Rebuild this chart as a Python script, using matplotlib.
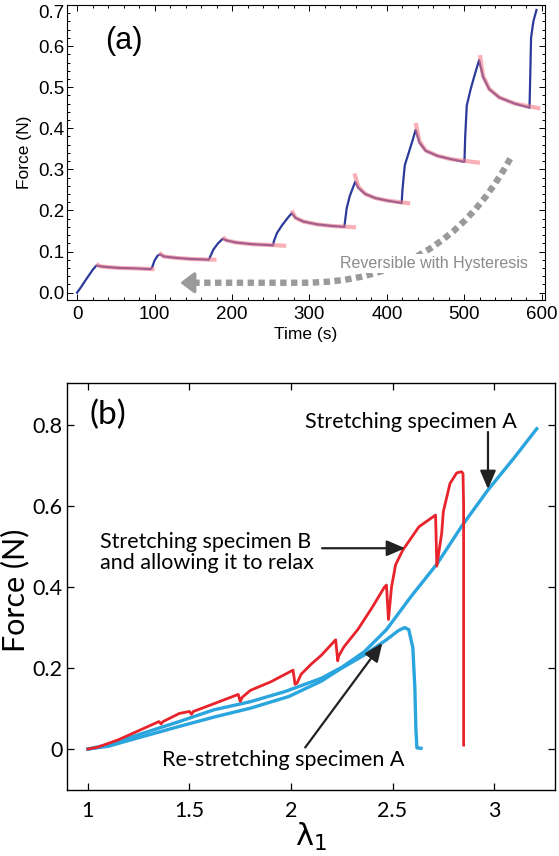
import matplotlib
matplotlib.use("Agg")
import matplotlib.pyplot as plt
from matplotlib.ticker import MultipleLocator

# ---------------- panel (a) data: force vs time ----------------
time_blue = [0, 5, 12, 20, 25,
             30, 40, 55, 75, 95,
             97, 100, 104, 107,
             112, 125, 145, 170,
             172, 176, 182, 188,
             193, 205, 225, 253,
             254, 258, 265, 272, 277,
             282, 292, 310, 330, 345,
             346, 348, 352, 356, 359,
             363, 372, 385, 400, 419,
             420, 423, 428, 433, 437,
             442, 450, 465, 482, 500,
             501, 503, 508, 514, 519,
             524, 532, 545, 565, 584,
             585, 586, 589, 593]
force_blue = [0.000, 0.013, 0.033, 0.055, 0.066,
              0.064, 0.062, 0.060, 0.059, 0.057,
              0.062, 0.078, 0.090, 0.093,
              0.088, 0.085, 0.082, 0.080,
              0.088, 0.105, 0.120, 0.131,
              0.127, 0.122, 0.118, 0.115,
              0.125, 0.145, 0.165, 0.182, 0.193,
              0.182, 0.173, 0.166, 0.162, 0.160,
              0.175, 0.205, 0.235, 0.255, 0.270,
              0.255, 0.240, 0.230, 0.224, 0.218,
              0.250, 0.310, 0.340, 0.370, 0.396,
              0.365, 0.345, 0.333, 0.325, 0.318,
              0.380, 0.455, 0.495, 0.535, 0.566,
              0.525, 0.495, 0.475, 0.460, 0.450,
              0.530, 0.620, 0.660, 0.688]

# relaxation fits (pink), one list per hold period
fit_times = [[25, 30, 40, 55, 75, 100],
             [106, 112, 125, 145, 180],
             [188, 193, 205, 225, 270],
             [277, 282, 292, 310, 330, 360],
             [358, 363, 372, 385, 400, 430],
             [437, 442, 450, 465, 482, 520],
             [520, 524, 532, 545, 565, 598]]
fit_forces = [[0.070, 0.064, 0.062, 0.060, 0.059, 0.057],
              [0.097, 0.088, 0.085, 0.082, 0.080],
              [0.135, 0.127, 0.122, 0.118, 0.114],
              [0.200, 0.182, 0.173, 0.166, 0.162, 0.159],
              [0.290, 0.258, 0.240, 0.230, 0.224, 0.217],
              [0.413, 0.368, 0.346, 0.333, 0.325, 0.316],
              [0.578, 0.528, 0.496, 0.475, 0.460, 0.448]]

a_xticks = [0, 100, 200, 300, 400, 500, 600]
a_yticks = [0.0, 0.1, 0.2, 0.3, 0.4, 0.5, 0.6, 0.7]

# ---------------- panel (b) data: force vs stretch ----------------
lam_B = [1.00, 1.05, 1.15, 1.27, 1.35, 1.36, 1.37, 1.45, 1.50, 1.51, 1.52,
         1.62, 1.74, 1.75, 1.76, 1.80, 1.90, 2.01, 2.02, 2.03, 2.05, 2.10,
         2.15, 2.22, 2.23, 2.235, 2.26, 2.33, 2.40, 2.46, 2.47, 2.48, 2.495,
         2.515, 2.55, 2.63, 2.712, 2.718, 2.742, 2.75, 2.783, 2.816, 2.84,
         2.847, 2.85, 2.85]
F_B = [0.000, 0.005, 0.023, 0.050, 0.068, 0.062, 0.068, 0.088, 0.093, 0.086,
       0.093, 0.112, 0.135, 0.118, 0.128, 0.145, 0.166, 0.195, 0.160, 0.163,
       0.185, 0.210, 0.232, 0.270, 0.218, 0.230, 0.252, 0.296, 0.350, 0.400,
       0.405, 0.320, 0.400, 0.455, 0.491, 0.549, 0.578, 0.452, 0.533, 0.586,
       0.656, 0.682, 0.685, 0.680, 0.600, 0.010]

lam_A = [1.00, 1.10, 1.27, 1.45, 1.62, 1.80, 1.97, 2.15, 2.25, 2.36, 2.47,
         2.59, 2.72, 2.84, 2.97, 3.10, 3.21]
F_A = [0.000, 0.011, 0.039, 0.068, 0.097, 0.117, 0.142, 0.175, 0.202, 0.240,
       0.295, 0.376, 0.458, 0.550, 0.640, 0.720, 0.791]

lam_R = [1.00, 1.10, 1.27, 1.45, 1.62, 1.80, 1.99, 2.15, 2.24, 2.36, 2.47,
         2.53, 2.56, 2.58, 2.60, 2.61, 2.615, 2.62, 2.64]
F_R = [0.000, 0.007, 0.031, 0.056, 0.079, 0.101, 0.130, 0.168, 0.197, 0.232,
       0.270, 0.293, 0.300, 0.295, 0.250, 0.150, 0.050, 0.003, 0.002]

b_xticks = [1, 1.5, 2, 2.5, 3]
b_xticklabels = ["1", "1.5", "2", "2.5", "3"]
b_yticks = [0, 0.2, 0.4, 0.6, 0.8]
b_yticklabels = ["0", "0.2", "0.4", "0.6", "0.8"]

# ---------------- figure ----------------
W, H = 559, 856
fig = plt.figure(figsize=(W / 100, H / 100), dpi=100)

def frac(l, t, r, b):
    return [l / W, 1 - b / H, (r - l) / W, (b - t) / H]

# panel (a)
fa = "Liberation Sans"
ax1 = fig.add_axes(frac(67, 5, 545, 300))
ax1.plot(time_blue, force_blue, color="#2b3a9b", lw=1.6, zorder=2)
for tt, ff in zip(fit_times, fit_forces):
    ax1.plot(tt, ff, color="#f47a86", lw=3.0, alpha=0.6, zorder=3,
             solid_capstyle="butt")
ax1.set_xlim(-13, 604)
ax1.set_ylim(-0.018, 0.70)
ax1.set_xticks(a_xticks)
ax1.set_yticks(a_yticks)
ax1.set_yticklabels([f"{v:.1f}" for v in a_yticks])
ax1.xaxis.set_minor_locator(MultipleLocator(20))
ax1.yaxis.set_minor_locator(MultipleLocator(0.02))
ax1.tick_params(which="both", direction="in", top=True, right=True,
                labelsize=13.5, width=0.7)
ax1.tick_params(which="major", length=4)
ax1.tick_params(which="minor", length=2.2)
ax1.tick_params(axis="y", pad=2)
ax1.tick_params(axis="x", pad=4)
for lab in ax1.get_xticklabels() + ax1.get_yticklabels():
    lab.set_family(fa)
ax1.get_yticklabels()[-1].set_va("top")
for s in ax1.spines.values():
    s.set_linewidth(0.8)
ax1.set_xlabel("Time (s)", family=fa, fontsize=12.5)
ax1.xaxis.set_label_coords(0.5, -0.09)
ax1.set_ylabel("Force (N)", family=fa, fontsize=12.5)
ax1.yaxis.set_label_coords(-0.073, 0.5)
ax1.text(0.12, 0.878, "(a)", transform=ax1.transAxes, family=fa, fontsize=22,
         ha="center", va="center")
# dashed return arrow
ax1.annotate("", xy=(150, 0.024), xytext=(559, 0.326),
             arrowprops=dict(arrowstyle="-", color="#9a9a9a", lw=4.6,
                             linestyle=(0, (1.0, 0.7)), capstyle="butt",
                             connectionstyle="angle,angleA=61,angleB=0,rad=138",
                             shrinkA=0, shrinkB=0), zorder=4)
ax1.annotate("", xy=(133, 0.024), xytext=(150, 0.024),
             arrowprops=dict(arrowstyle="-|>,head_length=0.6,head_width=0.45",
                             color="#9a9a9a", lw=2.5, shrinkA=0, shrinkB=0,
                             mutation_scale=14), zorder=4)
ax1.text(461, 0.071, "Reversible with Hysteresis", family=fa, fontsize=11.5,
         color="#8a8a8a", ha="center", va="center", zorder=5,
         bbox=dict(facecolor="white", edgecolor="none", pad=1.5))

# panel (b)
fb = "Lato"
ax2 = fig.add_axes(frac(67, 383, 555, 790))
ax2.plot(lam_B, F_B, color="#e8232b", lw=2.0, zorder=3)
ax2.plot(lam_R, F_R, color="#2aa5de", lw=2.4, zorder=2)
ax2.plot(lam_A, F_A, color="#2aa5de", lw=2.4, zorder=2)
ax2.set_xlim(0.897, 3.30)
ax2.set_ylim(-0.101, 0.904)
ax2.set_xticks(b_xticks)
ax2.set_xticklabels(b_xticklabels)
ax2.set_yticks(b_yticks)
ax2.set_yticklabels(b_yticklabels)
ax2.tick_params(direction="in", top=True, right=True, length=5, width=0.9,
                labelsize=15.5)
ax2.tick_params(axis="x", pad=8)
ax2.tick_params(axis="y", pad=3)
for lab in ax2.get_xticklabels() + ax2.get_yticklabels():
    lab.set_family(fb)
for s in ax2.spines.values():
    s.set_linewidth(1.0)
ax2.set_xlabel(r"$\mathrm{\lambda}_1$", fontsize=22)
ax2.xaxis.set_label_coords(0.5, -0.075)
ax2.set_ylabel("Force (N)", family=fb, fontsize=22)
ax2.yaxis.set_label_coords(-0.076, 0.49)
ax2.text(1.10, 0.825, "(b)", family=fb, fontsize=24, ha="center", va="center")

arrow_kw = dict(arrowstyle="-|>,head_length=0.7,head_width=0.3", color="#222222",
                lw=1.6, shrinkA=0, shrinkB=0, mutation_scale=16)
ax2.text(2.59, 0.807, "Stretching specimen A", family=fb, fontsize=15.5,
         ha="center", va="center")
ax2.annotate("", xy=(2.97, 0.642), xytext=(2.97, 0.783), arrowprops=arrow_kw)
ax2.text(1.06, 0.485, "Stretching specimen B\nand allowing it to relax",
         family=fb, fontsize=15.5, ha="left", va="center", linespacing=1.1)
ax2.annotate("", xy=(2.562, 0.496), xytext=(2.153, 0.496), arrowprops=arrow_kw)
ax2.text(1.96, -0.027, "Re-stretching specimen A", family=fb, fontsize=15.5,
         ha="center", va="center")
ax2.annotate("", xy=(2.45, 0.262), xytext=(2.07, 0.004), arrowprops=arrow_kw)

fig.savefig("out.png", dpi=100)
